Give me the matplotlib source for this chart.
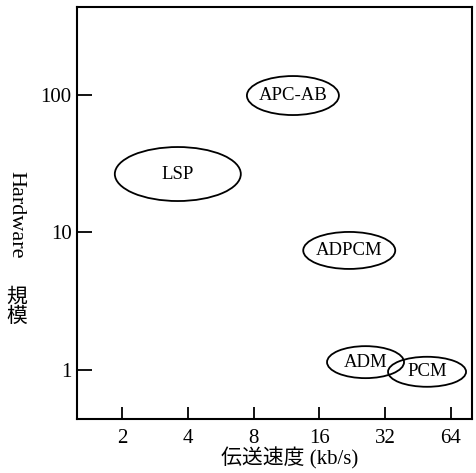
import matplotlib
matplotlib.use("Agg")
import matplotlib.pyplot as plt
from matplotlib.patches import Ellipse
from matplotlib.transforms import ScaledTranslation

plt.rcParams['font.family'] = ['Liberation Serif', 'Noto Sans CJK JP']

# 方式ごとの位置 (伝送速度 kb/s, Hardware規模)
names = ["APC-AB", "LSP", "ADPCM", "ADM", "PCM"]
rate = [12.1, 3.6, 21.9, 26.0, 49.7]
scale = [99.0, 26.6, 7.4, 1.14, 0.97]
# 楕円の大きさ (px)
ell_w = [92, 126, 92, 77, 78]
ell_h = [39, 54, 37, 32, 30]

xticks = [2, 4, 8, 16, 32, 64]
yticks = [1, 10, 100]

dpi = 100
fig = plt.figure(figsize=(4.76, 4.73), dpi=dpi)
ax = fig.add_axes([77 / 476, 54 / 473, 395 / 476, 412 / 473])

ax.set_xscale('log', base=2)
ax.set_yscale('log')
ax.set_xlim(1.245, 79.8)
ax.set_ylim(0.44, 436)

ax.set_xticks(xticks)
ax.set_xticklabels([str(t) for t in xticks])
ax.set_yticks(yticks)
ax.set_yticklabels([str(t) for t in yticks])
ax.minorticks_off()
ax.tick_params(axis='x', direction='in', length=9, width=1.3, labelsize=15, pad=7)
ax.tick_params(axis='y', direction='in', length=11, width=1.3, labelsize=15, pad=4)
for s in ax.spines.values():
    s.set_linewidth(1.5)

for i in range(len(names)):
    tr = fig.dpi_scale_trans + ScaledTranslation(rate[i], scale[i], ax.transData)
    e = Ellipse((0, 0), ell_w[i] / dpi, ell_h[i] / dpi, transform=tr,
                fill=False, edgecolor='black', linewidth=1.3)
    ax.add_patch(e)
    ax.text(rate[i], scale[i], names[i], ha='center', va='center', fontsize=13.5)

fig.text(290 / 476, 1 - 458 / 473, "伝送速度 (kb/s)", ha='center', va='center', fontsize=15)
fig.text(16 / 476, 1 - 215 / 473, "Hardware", rotation=270, ha='center', va='center', fontsize=16)
fig.text(17 / 476, 1 - 308 / 473, "規\n模", ha='center', va='center', fontsize=15, linespacing=1.0)

fig.savefig("out.png", dpi=dpi)
